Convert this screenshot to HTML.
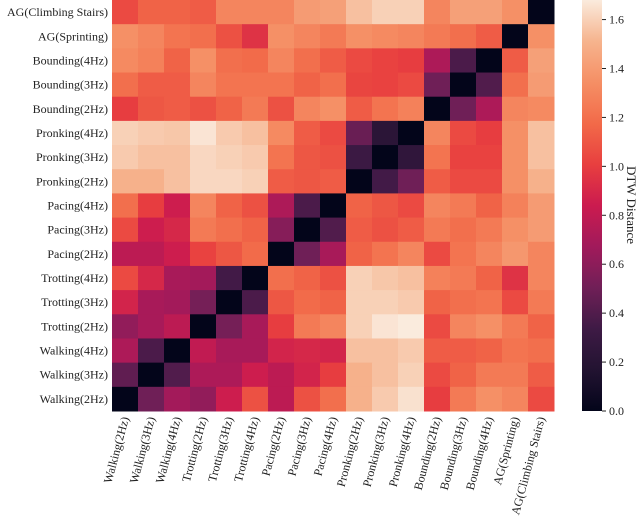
<!DOCTYPE html>
<html><head><meta charset="utf-8"><style>
body{margin:0;background:#fff;}
svg text{font-family:"Liberation Serif",serif;fill:#222;}
</style></head><body>
<svg id="chart" width="640" height="523" xmlns="http://www.w3.org/2000/svg">
<defs><linearGradient id="cbgrad" x1="0" y1="1" x2="0" y2="0"></linearGradient></defs>
<g id="cells"></g>
<g id="ylabels"></g>
<g id="xlabels"></g>
<rect x="582" y="0" width="20" height="411" fill="url(#cbgrad)"/>
<g id="cbticks"></g>
<text x="627" y="205" font-size="13" text-anchor="middle" transform="rotate(90 627 205)">DTW Distance</text>
</svg>
<script>
const rowLabels=["AG(Climbing Stairs)","AG(Sprinting)","Bounding(4Hz)","Bounding(3Hz)","Bounding(2Hz)","Pronking(4Hz)","Pronking(3Hz)","Pronking(2Hz)","Pacing(4Hz)","Pacing(3Hz)","Pacing(2Hz)","Trotting(4Hz)","Trotting(3Hz)","Trotting(2Hz)","Walking(4Hz)","Walking(3Hz)","Walking(2Hz)"];
const colLabels=["Walking(2Hz)","Walking(3Hz)","Walking(4Hz)","Trotting(2Hz)","Trotting(3Hz)","Trotting(4Hz)","Pacing(2Hz)","Pacing(3Hz)","Pacing(4Hz)","Pronking(2Hz)","Pronking(3Hz)","Pronking(4Hz)","Bounding(2Hz)","Bounding(3Hz)","Bounding(4Hz)","AG(Sprinting)","AG(Climbing Stairs)"];
const values=[
[1.05,1.15,1.15,1.12,1.3,1.3,1.3,1.4,1.42,1.55,1.6,1.6,1.3,1.42,1.42,1.35,0],
[1.35,1.3,1.22,1.2,1.08,0.95,1.35,1.3,1.25,1.35,1.32,1.3,1.25,1.2,1.12,0,1.35],
[1.32,1.28,1.15,1.35,1.2,1.18,1.3,1.2,1.12,1.05,1.02,1.0,0.72,0.38,0,1.12,1.42],
[1.2,1.12,1.12,1.3,1.22,1.22,1.22,1.15,1.2,1.03,1.02,1.05,0.5,0,0.4,1.2,1.4],
[1.0,1.1,1.12,1.08,1.15,1.25,1.08,1.3,1.35,1.12,1.22,1.28,0,0.5,0.72,1.3,1.32],
[1.6,1.58,1.57,1.66,1.58,1.55,1.32,1.12,1.05,0.48,0.22,0,1.3,1.05,1.0,1.35,1.55],
[1.58,1.55,1.55,1.62,1.6,1.58,1.22,1.1,1.08,0.32,0,0.25,1.22,1.02,1.02,1.35,1.55],
[1.5,1.5,1.55,1.62,1.62,1.6,1.12,1.1,1.12,0,0.35,0.5,1.12,1.05,1.05,1.35,1.5],
[1.2,1.0,0.85,1.3,1.15,1.08,0.72,0.38,0,1.15,1.1,1.05,1.3,1.25,1.15,1.28,1.4],
[1.05,0.85,0.9,1.25,1.2,1.15,0.58,0,0.4,1.12,1.08,1.12,1.25,1.2,1.25,1.35,1.4],
[0.78,0.78,0.85,1.02,1.1,1.18,0,0.5,0.7,1.15,1.22,1.3,1.05,1.22,1.3,1.38,1.3],
[1.05,0.9,0.7,0.68,0.35,0,1.2,1.15,1.08,1.6,1.57,1.55,1.28,1.25,1.15,0.95,1.3],
[0.88,0.7,0.68,0.52,0,0.38,1.1,1.18,1.15,1.6,1.6,1.58,1.15,1.2,1.22,1.05,1.25],
[0.62,0.7,0.78,0,0.52,0.7,1.0,1.25,1.3,1.6,1.66,1.68,1.05,1.3,1.35,1.25,1.15],
[0.72,0.38,0,0.8,0.7,0.7,0.88,0.9,0.88,1.55,1.55,1.58,1.12,1.12,1.15,1.22,1.2],
[0.45,0,0.4,0.72,0.72,0.85,0.78,0.88,1.0,1.5,1.55,1.6,1.05,1.15,1.25,1.25,1.12],
[0,0.5,0.68,0.62,0.85,1.08,0.78,1.08,1.2,1.5,1.58,1.65,1.0,1.25,1.35,1.3,1.05]];
const cbTicks=[0,0.2,0.4,0.6,0.8,1.0,1.2,1.4,1.6];
const vmax=1.68;
const stops=[[0,"#03051A"],[0.1,"#221331"],[0.2,"#3E1A45"],[0.3,"#701F57"],[0.4,"#A11A5B"],[0.5,"#CB1B4F"],[0.6,"#E83F3F"],[0.7,"#F26A49"],[0.8,"#F58F65"],[0.9,"#F6B48E"],[1,"#FAEBDD"]];
function hex(h){return [1,3,5].map(i=>parseInt(h.substr(i,2),16));}
function cmap(v){let t=Math.max(0,Math.min(1,v/vmax));for(let i=1;i<stops.length;i++){if(t<=stops[i][0]){const a=stops[i-1],b=stops[i];const f=(t-a[0])/(b[0]-a[0]);const ca=hex(a[1]),cb=hex(b[1]);return "rgb("+ca.map((c,k)=>Math.round(c+(cb[k]-c)*f)).join(",")+")";}}return stops[stops.length-1][1];}
const X0=112,X1=554,Y0=0,Y1=411;
const cw=(X1-X0)/colLabels.length, ch=(Y1-Y0)/rowLabels.length;
const xs=j=>X0+j*cw, ys=i=>Y0+i*ch;
const NS="http://www.w3.org/2000/svg";
const cells=document.getElementById('cells');
values.forEach((row,i)=>row.forEach((v,j)=>{
 const r=document.createElementNS(NS,'rect');
 r.setAttribute('x',xs(j));r.setAttribute('y',ys(i));r.setAttribute('width',cw+0.5);r.setAttribute('height',ch+0.5);r.setAttribute('fill',cmap(v));
 
 
 cells.appendChild(r);}));
const yl=document.getElementById('ylabels');
rowLabels.forEach((l,i)=>{const t=document.createElementNS(NS,'text');t.setAttribute('x',108);t.setAttribute('y',ys(i)+ch/2+4);t.setAttribute('text-anchor','end');t.setAttribute('font-size','12');t.textContent=l;
 
 
 yl.appendChild(t);});
const xl=document.getElementById('xlabels');
colLabels.forEach((l,j)=>{const cx=xs(j)+cw/2+4,cy=418;const t=document.createElementNS(NS,'text');t.setAttribute('x',cx);t.setAttribute('y',cy);t.setAttribute('text-anchor','end');t.setAttribute('font-size','12');t.setAttribute('transform','rotate(-75 '+cx+' '+cy+')');t.textContent=l;
 
 
 xl.appendChild(t);});
const g=document.getElementById('cbgrad');
for(let k=0;k<=20;k++){const s=document.createElementNS(NS,'stop');s.setAttribute('offset',k/20);s.setAttribute('stop-color',cmap(vmax*k/20));g.appendChild(s);}
const cbt=document.getElementById('cbticks');
cbTicks.forEach(v=>{const y=Y1-v/vmax*(Y1-Y0);const ln=document.createElementNS(NS,'line');ln.setAttribute('x1',602);ln.setAttribute('x2',606);ln.setAttribute('y1',y);ln.setAttribute('y2',y);ln.setAttribute('stroke','#222');
 
 
 cbt.appendChild(ln);
 const t=document.createElementNS(NS,'text');t.setAttribute('x',609);t.setAttribute('y',y+4);t.setAttribute('font-size','12');t.textContent=v.toFixed(1);
 
 
 cbt.appendChild(t);});
</script>
</body></html>
